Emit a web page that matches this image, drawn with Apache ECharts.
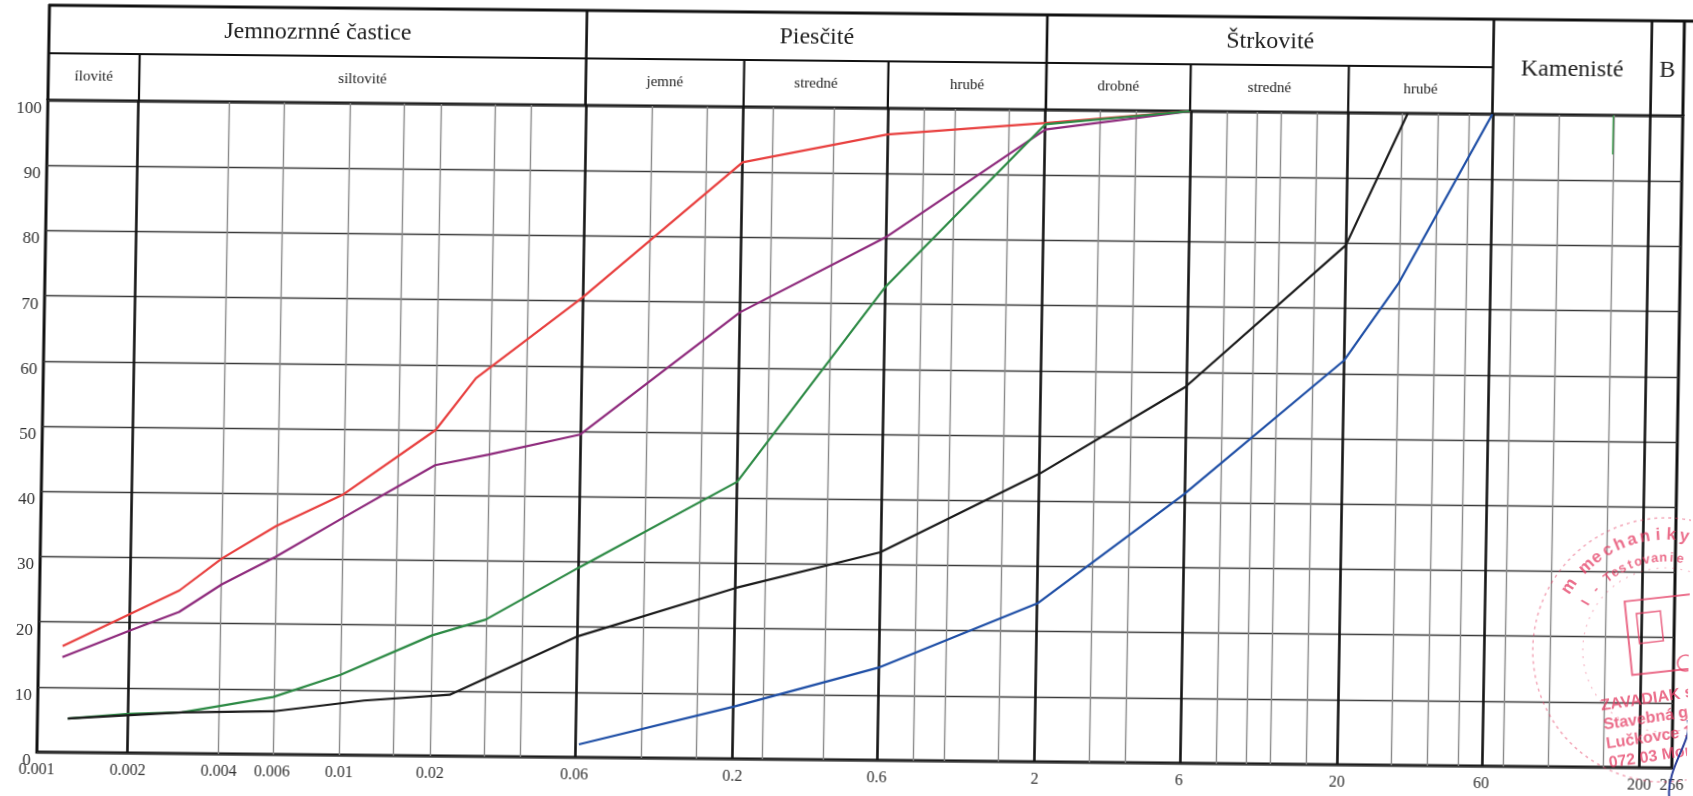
<!DOCTYPE html>
<html>
<head>
<meta charset="utf-8">
<script src="https://cdn.jsdelivr.net/npm/echarts@6/dist/echarts.min.js"></script>
<style>
html,body{margin:0;padding:0;background:#fff;overflow:hidden;}
#c{width:1693px;height:796px;transform:matrix(1,0.0097,-0.0169,1,0,0);transform-origin:846px 398px;}
</style>
</head>
<body>
<div id="c"></div>
<script>
// ---- data (grain size in mm, percent passing) ----
const redSizes    = [0.0012, 0.0029, 0.004, 0.006, 0.01, 0.02, 0.027, 0.06, 0.2, 0.6, 2, 6];
const redPassing  = [16.3, 25, 30, 35, 40, 50, 58, 70.5, 91.5, 96, 98, 100];
const purpleSizes   = [0.0012, 0.002, 0.0029, 0.004, 0.006, 0.01, 0.02, 0.03, 0.06, 0.2, 0.6, 2, 6];
const purplePassing = [14.6, 18.8, 21.7, 26, 30.3, 36.4, 44.6, 46.3, 49.5, 68.5, 80.2, 97, 100];
const greenSizes   = [0.00126, 0.002, 0.003, 0.006, 0.01, 0.02, 0.03, 0.06, 0.2, 0.6, 2, 6];
const greenPassing = [5.2, 6.0, 6.3, 8.8, 12.3, 18.5, 21, 29, 42.5, 72.5, 97.8, 100];
const blackSizes   = [0.00126, 0.003, 0.006, 0.012, 0.023, 0.06, 0.2, 0.6, 2, 6, 20, 31.5];
const blackPassing = [5.2, 6.3, 6.6, 8.4, 9.4, 18.5, 26.2, 31.9, 44.2, 57.7, 79.7, 100];
const blueSizes   = [0.062, 0.2, 0.6, 2, 6, 20, 30, 60];
const bluePassing = [2, 8, 14.2, 24.3, 41.2, 62, 73.9, 100];

const xTickLabels = ['0.001','0.002','0.004','0.006','0.01','0.02','0.06','0.2','0.6','2','6','20','60','200','256'];
const yTicks = [0,10,20,30,40,50,60,70,80,90,100];
const majorLines = [0.002, 0.06, 0.2, 0.6, 2, 6, 20, 60, 200];
const minorLines = [0.004, 0.006, 0.01, 0.015, 0.02, 0.03, 0.04,
                    0.1, 0.15, 0.25, 0.4, 0.8, 1, 1.5,
                    3, 4, 8, 10, 12, 16, 30, 40, 50,
                    70, 100, 150];

const headerTop = ['Jemnozrnné častice', 'Piesčité', 'Štrkovité'];
const headerTopBounds = [[0.001, 0.06], [0.06, 2], [2, 60]];
const headerTall = ['Kamenisté', 'B'];
const headerTallBounds = [[60, 200], [200, 256]];
const headerSub = ['ílovité', 'siltovité', 'jemné', 'stredné', 'hrubé', 'drobné', 'stredné', 'hrubé'];
const headerSubBounds = [[0.001,0.002],[0.002,0.06],[0.06,0.2],[0.2,0.6],[0.6,2],[2,6],[6,20],[20,60]];

const stampLines = ['ZAVADIAK s.r.o.', 'Stavebná geológia', 'Lučkovce 1', '072 03 Moravany'];

// ---- chart ----
const L = v => Math.log10(v);
const xMin = L(0.001), xMax = L(256);
const xTickValues = xTickLabels.map(s => L(parseFloat(s)));
const serif = '"Liberation Serif", "DejaVu Serif", serif';

function mk(sizes, vals) { return sizes.map((s, i) => [L(s), vals[i]]); }
function lineSeries(name, color, sizes, vals) {
  return { name, type: 'line', data: mk(sizes, vals), showSymbol: false, symbol: 'none',
    smooth: false, z: 5, animation: false, lineStyle: { color, width: 2.2 }, itemStyle: { color } };
}

const gridMarks = [];
minorLines.forEach(v => gridMarks.push({ xAxis: L(v), lineStyle: { color: '#8a8a8a', width: 1.4, type: 'solid' } }));
majorLines.forEach(v => gridMarks.push({ xAxis: L(v), lineStyle: { color: '#151515', width: 2.6, type: 'solid' } }));
gridMarks.push([{ coord: [L(150), 100], lineStyle: { color: '#3a9a4a', width: 1.4, type: 'solid' } }, { coord: [L(150), 94] }]);

const chart = echarts.init(document.getElementById('c'), null, { renderer: 'canvas' });
const GRID = { left: 43, right: 7, top: 108, bottom: 36 };
chart.setOption({
  animation: false,
  backgroundColor: '#ffffff',
  grid: { show: true, left: GRID.left, right: GRID.right, top: GRID.top, bottom: GRID.bottom,
          borderColor: '#111', borderWidth: 3, backgroundColor: 'transparent' },
  xAxis: {
    type: 'value', min: xMin, max: xMax,
    axisLine: { show: false }, axisTick: { show: false }, splitLine: { show: false },
    axisLabel: {
      customValues: xTickValues, margin: 10, color: '#333', fontSize: 16, fontFamily: serif,
      formatter: (val) => { const i = xTickValues.findIndex(t => Math.abs(t - val) < 1e-9); return i >= 0 ? xTickLabels[i] : ''; }
    }
  },
  yAxis: {
    type: 'value', min: 0, max: 100, interval: 10,
    axisLine: { show: false }, axisTick: { show: false },
    splitLine: { show: true, lineStyle: { color: '#3a3a3a', width: 1.4 } },
    axisLabel: { color: '#333', fontSize: 17, fontFamily: serif, margin: 6, verticalAlign: 'top' }
  },
  series: [
    { type: 'line', data: [], silent: true, z: 1,
      markLine: { silent: true, symbol: ['none', 'none'], label: { show: false }, animation: false, data: gridMarks } },
    lineSeries('Vzorka 1', '#e8403f', redSizes, redPassing),
    lineSeries('Vzorka 2', '#8e2a7c', purpleSizes, purplePassing),
    lineSeries('Vzorka 3', '#2d8a45', greenSizes, greenPassing),
    lineSeries('Vzorka 4', '#1b1b1b', blackSizes, blackPassing),
    lineSeries('Vzorka 5', '#1f4fa6', blueSizes, bluePassing)
  ]
});

// ---- header table and stamp (positions from the x scale) ----
const px = v => chart.convertToPixel({ xAxisIndex: 0 }, L(v));
const hTop = 13, hMid = 61, hBot = GRID.top;
const g = [];
function ln(x1, y1, x2, y2, w, c) {
  g.push({ type: 'line', silent: true, z: 10, shape: { x1, y1, x2, y2 }, style: { stroke: c || '#111', lineWidth: w } });
}
function tx(text, x, y, size, extra) {
  g.push(Object.assign({ type: 'text', silent: true, z: 10, x, y,
    style: { text, font: size + 'px ' + serif, fill: '#222', align: 'center', verticalAlign: 'middle',
             textAlign: 'center', textVerticalAlign: 'middle' } }, extra || {}));
}
const xL = px(0.001), xR = px(256);
ln(xL - 1, hTop, 1693, hTop, 3);
ln(xL, hTop - 1, xL, hBot, 3);
ln(xL, hMid, px(60), hMid, 2.2);
[0.06, 2, 60, 200].forEach(v => ln(px(v), hTop, px(v), hBot, 2.6));
[0.002, 0.2, 0.6, 6, 20].forEach(v => ln(px(v), hMid, px(v), hBot, 2.2));
ln(xR, hTop, xR, hBot, 3);
headerTop.forEach((t, i) => tx(t, (px(headerTopBounds[i][0]) + px(headerTopBounds[i][1])) / 2, 38, 24));
headerTall.forEach((t, i) => tx(t, (px(headerTallBounds[i][0]) + px(headerTallBounds[i][1])) / 2, 63, 24));
headerSub.forEach((t, i) => tx(t, (px(headerSubBounds[i][0]) + px(headerSubBounds[i][1])) / 2, 84, 15));

// stamp
const sc = { x: 1669, y: 642 };
const stampCol = 'rgba(228,62,100,0.75)';
g.push({ type: 'circle', silent: true, z: 12, shape: { cx: sc.x, cy: sc.y, r: 132 },
  style: { fill: 'none', stroke: 'rgba(228,62,100,0.45)', lineWidth: 1.5, lineDash: [3, 4] } });
g.push({ type: 'circle', silent: true, z: 12, shape: { cx: sc.x, cy: sc.y, r: 82 },
  style: { fill: 'none', stroke: 'rgba(228,62,100,0.35)', lineWidth: 1.2, lineDash: [2, 6] } });
g.push({ type: 'rect', silent: true, z: 12, x: 1628, y: 594, rotation: 0.12,
  shape: { x: 0, y: 0, width: 78, height: 74 }, style: { fill: 'none', stroke: stampCol, lineWidth: 2 } });
g.push({ type: 'rect', silent: true, z: 12, x: 1640, y: 606, rotation: 0.12,
  shape: { x: 0, y: 0, width: 24, height: 30 }, style: { fill: 'none', stroke: stampCol, lineWidth: 1.6 } });
g.push({ type: 'circle', silent: true, z: 12, shape: { cx: 1690, cy: 655, r: 8 },
  style: { fill: 'none', stroke: stampCol, lineWidth: 1.6 } });
function arcText(str, r, a0, a1, size) {
  const n = str.length;
  for (let i = 0; i < n; i++) {
    const a = (a0 + (a1 - a0) * i / Math.max(1, n - 1)) * Math.PI / 180;
    g.push({ type: 'text', silent: true, z: 12, x: sc.x + r * Math.cos(a), y: sc.y + r * Math.sin(a),
      rotation: -(a + Math.PI / 2),
      style: { text: str[i], font: 'bold ' + size + 'px "Liberation Sans", sans-serif', fill: stampCol,
               align: 'center', verticalAlign: 'middle', textAlign: 'center', textVerticalAlign: 'middle' } });
  }
}
arcText('m mechaniky a', 115, -147, -68, 17);
arcText('I - Testovanie - Ko', 92, -150, -55, 13);
stampLines.forEach((t, i) => {
  g.push({ type: 'text', silent: true, z: 12, x: 1606 + i * 3, y: 699 + i * 19, rotation: 0.16,
    style: { text: t, font: 'bold 16px "Liberation Sans", sans-serif', fill: stampCol,
             align: 'left', verticalAlign: 'middle', textAlign: 'left', textVerticalAlign: 'middle' } });
});
// signature stroke
g.push({ type: 'bezierCurve', silent: true, z: 13,
  shape: { x1: 1676, y1: 790, x2: 1693, y2: 712, cpx1: 1672, cpy1: 760, cpx2: 1700, cpy2: 730 },
  style: { stroke: '#2b3f9a', lineWidth: 2, fill: 'none' } });

chart.setOption({ graphic: { elements: g } });
</script>
</body>
</html>
